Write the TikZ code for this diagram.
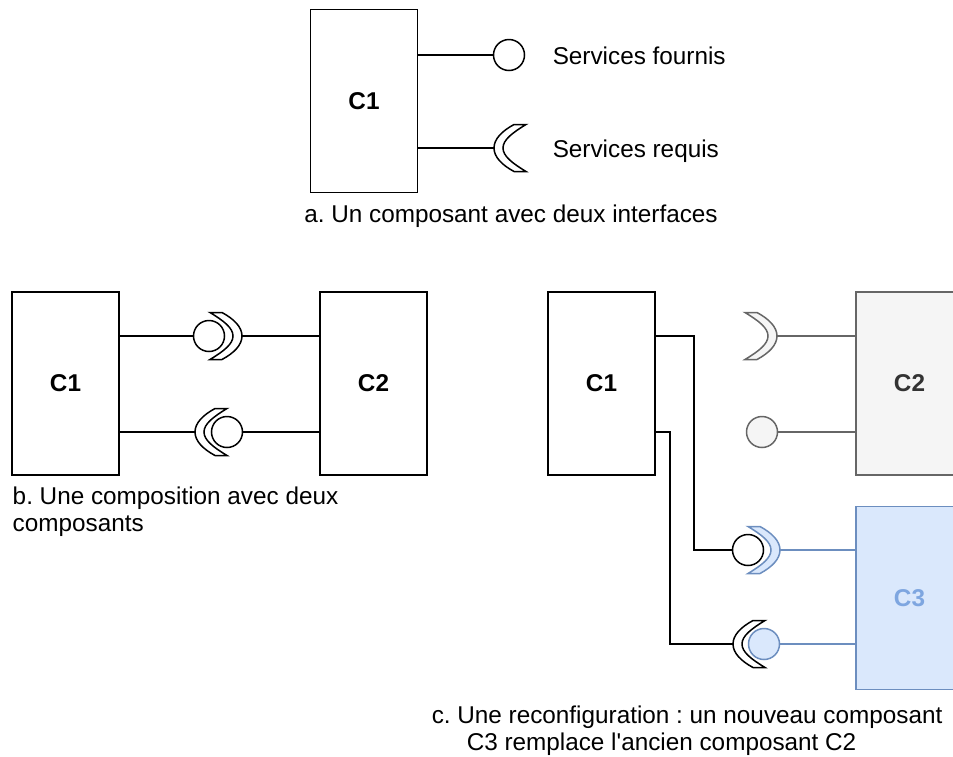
\documentclass[tikz,border=0pt]{standalone}
\usepackage{fontspec}
\setmainfont{Liberation Sans}[Ligatures=TeXOff]
\usepackage{tikz}
\frenchspacing

\definecolor{grayfill}{HTML}{F5F5F5}
\definecolor{graydraw}{HTML}{666666}
\definecolor{graytext}{HTML}{333333}
\definecolor{bluefill}{HTML}{DAE8FC}
\definecolor{bluedraw}{HTML}{6C8EBF}
\definecolor{bluetext}{HTML}{7EA6E0}

\newcommand\diagfont{\fontsize{12.15}{13.5}\selectfont}

\begin{document}
\begin{tikzpicture}[x=.5pt,y=-.5pt,line width=.75pt,font=\diagfont,
	comp/.style={draw,fill=white,minimum width=53.5pt,minimum height=91.5pt,inner sep=0,font=\diagfont\bfseries},
	prov/.style={draw,fill=white,circle,minimum size=15.5pt,inner sep=0},
	plain/.style={draw,fill=white},
	oldc/.style={draw=graydraw,fill=grayfill},
	newc/.style={draw=bluedraw,fill=bluefill},
	reqif/.pic={
		\path[pic actions] (12,-23.5) .. controls (24,-17) and (32,-9) .. (32,0)
			.. controls (32,9) and (24,17) .. (12,23.5) -- (0,23.5)
			.. controls (14,15) and (23,8) .. (23,0)
			.. controls (23,-8) and (14,-15) .. (0,-23.5) -- cycle;
		\coordinate (-out) at (32,0);
	}]
	\clip (0,0) rectangle (953,756);
	
	% a. one component
	\node[comp] (c1a) at (364,101) {C1};
	\node[prov] (pa) at (509,55) {};
	\draw (c1a.east |- pa) -- (pa);
	\pic[plain,rotate=180] (ra) at (526,148) {reqif};
	\draw (c1a.east |- ra-out) -- (ra-out);
	\node[anchor=base west,inner sep=0] (sf) at (552,64) {Services fournis};
	\node[anchor=base west,inner sep=0] (sr) at (552,157) {Services requis};
	\node[anchor=north,inner sep=0] (capa) at (511,204) {a. Un composant avec deux interfaces};
	
	% b. composition
	\node[comp] (c1b) at (65.5,383.5) {C1};
	\node[comp] (c2b) at (373.5,383.5) {C2};
	\pic[plain] (rb1) at (210,336) {reqif};
	\node[prov] (pb1) at (209,336) {};
	\draw (c1b.east |- pb1) -- (pb1);
	\draw (rb1-out) -- (c2b.west |- rb1-out);
	\pic[plain,rotate=180] (rb2) at (227,432) {reqif};
	\node[prov] (pb2) at (227,432) {};
	\draw (c1b.east |- rb2-out) -- (rb2-out);
	\draw (pb2) -- (c2b.west |- pb2);
	\node[anchor=north west,align=left,inner sep=0] (capb) at (12,486) {b. Une composition avec deux\\composants};
	
	% c. reconfiguration
	\node[comp] (c1c) at (601.5,383.5) {C1};
	\node[comp,oldc,text=graytext] (c2c) at (909.5,383.5) {C2};
	\node[comp,newc,text=bluetext] (c3c) at (909.5,598) {C3};
	
	% old links
	\pic[oldc] (rc1) at (745,336) {reqif};
	\draw[graydraw] (rc1-out) -- (c2c.west |- rc1-out);
	\node[prov,oldc] (pc1) at (762,432) {};
	\draw[graydraw] (pc1) -- (c2c.west |- pc1);
	
	% new links
	\pic[newc] (rc2) at (748,550) {reqif};
	\node[prov] (pc2) at (748,550) {};
	\draw[bluedraw] (rc2-out) -- (c3c.west |- rc2-out);
	\pic[plain,rotate=180] (rc3) at (765,644) {reqif};
	\node[prov,newc] (pc3) at (764,644) {};
	\draw[bluedraw] (pc3) -- (c3c.west |- pc3);
	\coordinate (k1) at (694,336);
	\coordinate (k2) at (670,432);
	\draw (c1c.east |- k1) -- (k1) |- (pc2);
	\draw (c1c.east |- k2) -- (k2) |- (rc3-out);
	
	\node[anchor=north west,align=left,inner sep=0] (capc) at (431,705) {c. Une reconfiguration : un nouveau composant\\\hspace*{17.5pt}C3 remplace l'ancien composant C2};
\end{tikzpicture}
\end{document}
